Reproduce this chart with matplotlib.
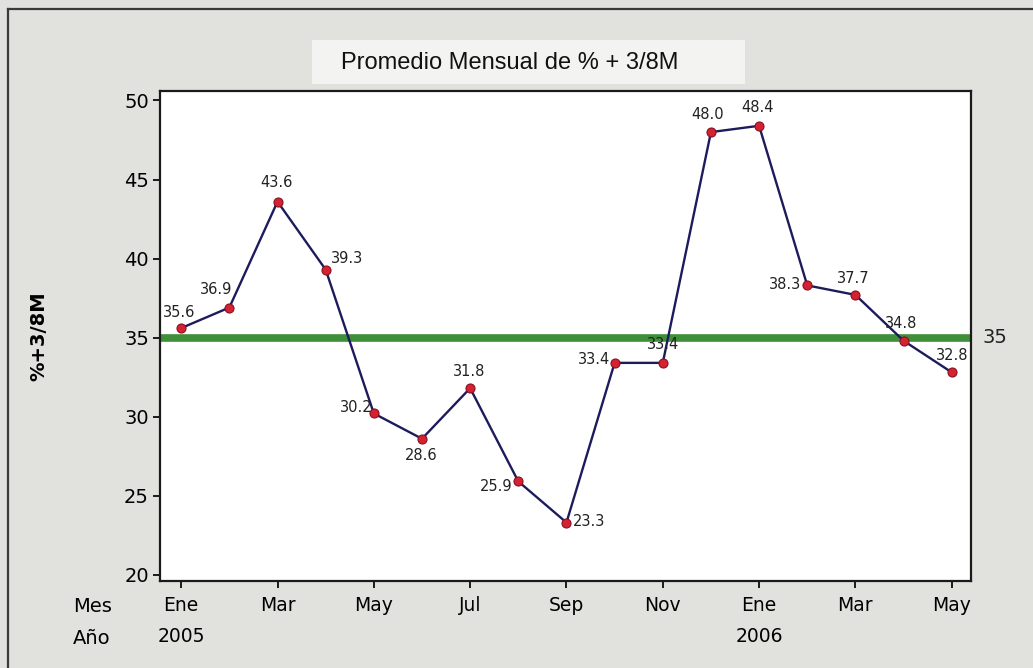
import matplotlib
matplotlib.use("Agg")
import matplotlib.pyplot as plt
from matplotlib.patches import Rectangle
from matplotlib.lines import Line2D
import matplotlib.transforms as mtransforms

# ---- data ----
months = ["Ene", "Feb", "Mar", "Abr", "May", "Jun", "Jul", "Ago", "Sep", "Oct",
          "Nov", "Dic", "Ene", "Feb", "Mar", "Abr", "May"]
values = [35.6, 36.9, 43.6, 39.3, 30.2, 28.6, 31.8, 25.9, 23.3, 33.4,
          33.4, 48.0, 48.4, 38.3, 37.7, 34.8, 32.8]
value_labels = ["35.6", "36.9", "43.6", "39.3", "30.2", "28.6", "31.8", "25.9", "23.3",
                "33.4", "33.4", "48.0", "48.4", "38.3", "37.7", "34.8", "32.8"]
year_labels = {0: "2005", 12: "2006"}
target = 35
yticks = [20, 25, 30, 35, 40, 45, 50]
title = "Promedio Mensual de % + 3/8M"
ylabel = "%+3/8M"

# label offsets in pixels (dx, dy) relative to each point
offsets = [(-2, 16), (-13, 18), (-1, 19), (21, 11), (-18, 6), (-1, -17), (-1, 17),
           (-22, -5), (23, 1), (-21, 3), (0, 18), (-3, 18), (-2, 18), (-22, 1),
           (-2, 16), (-2, 17), (0, 17)]

W, H = 1033, 668
fig = plt.figure(figsize=(W / 100, H / 100), dpi=100)
fig.patch.set_facecolor("#e1e1dd")

# outer frame lines (top and left)
fig.add_artist(Line2D([8 / W, 1.0], [1 - 9 / H, 1 - 9 / H], color="#3a3a3a", lw=1.6,
                      transform=fig.transFigure))
fig.add_artist(Line2D([8 / W, 8 / W], [0, 1 - 9 / H], color="#3a3a3a", lw=1.6,
                      transform=fig.transFigure))

# title box
fig.add_artist(Rectangle((312 / W, 1 - 84 / H), (745 - 312) / W, (84 - 40) / H,
                         transform=fig.transFigure, facecolor="#f3f3f1",
                         edgecolor="none", zorder=0))
fig.text(510 / W, 1 - 63 / H, title, ha="center", va="center",
         fontsize=17, family="Liberation Sans", color="#111111")

ax = fig.add_axes([160 / W, 1 - 581 / H, (971 - 160) / W, (581 - 91) / H])
ax.set_facecolor("white")

x = list(range(len(values)))
ax.axhline(target, color="#3f8f3a", lw=5.5, zorder=2)
ax.plot(x, values, color="#1c1c5c", lw=1.7, zorder=3,
        marker="o", markersize=6.5, markerfacecolor="#d42232",
        markeredgecolor="#8a1020", markeredgewidth=0.8)

for xi, v, lab, (dx, dy) in zip(x, values, value_labels, offsets):
    ax.annotate(lab, (xi, v), xytext=(dx, dy), textcoords="offset pixels",
                ha="center", va="center", fontsize=10.5, color="#222222", zorder=4)

ax.set_xlim(-0.44, 16.4)
ax.set_ylim(19.6, 50.6)
ax.set_yticks(yticks)
ax.set_yticklabels([str(t) for t in yticks], fontsize=14)
tick_pos = x[::2]
ax.set_xticks(tick_pos)
ax.set_xticklabels([months[i] for i in tick_pos], fontsize=13.5)

for s in ax.spines.values():
    s.set_linewidth(1.6)
    s.set_color("#1a1a1a")
ax.tick_params(axis="both", direction="out", length=5, width=1.4, color="#1a1a1a")
ax.tick_params(axis="x", pad=6)
ax.tick_params(axis="y", pad=3)

ax.set_ylabel(ylabel, fontsize=14, fontweight="bold")
ax.yaxis.set_label_coords((48 - 160) / (971 - 160), 0.5)

# "35" label at right
trans_r = mtransforms.blended_transform_factory(fig.transFigure, ax.transData)
ax.text(995 / W, target, str(target), transform=trans_r, ha="center", va="center",
        fontsize=14, color="#222222")

# Mes / Año row labels and years
fig.text(73 / W, 1 - 606 / H, "Mes", ha="left", va="center", fontsize=14)
fig.text(73 / W, 1 - 638 / H, "Año", ha="left", va="center", fontsize=14)
trans_y = mtransforms.blended_transform_factory(ax.transData, fig.transFigure)
for xi, yl in year_labels.items():
    ax.text(xi, 1 - 637 / H, yl, transform=trans_y, ha="center", va="center",
            fontsize=13.5, clip_on=False)

fig.savefig("out.png", dpi=100, facecolor=fig.get_facecolor())
